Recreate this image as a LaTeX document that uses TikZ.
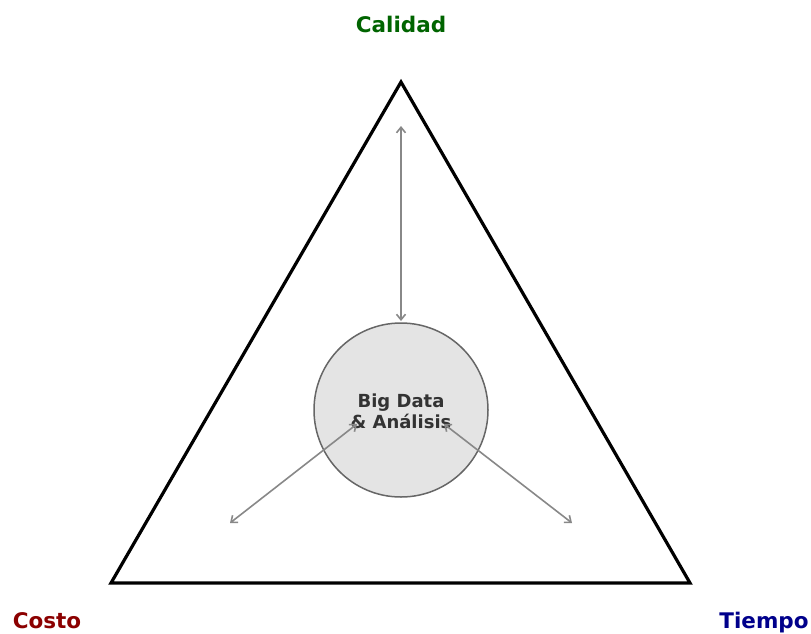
\documentclass[tikz,border=0pt]{standalone}
\usepackage{fontspec}
\setmainfont{DejaVu Sans}
\usetikzlibrary{arrows.meta}
\definecolor{cgreen}{HTML}{006400}
\definecolor{cred}{HTML}{8B0000}
\definecolor{cblue}{HTML}{00008B}
\definecolor{cfill}{HTML}{E4E4E4}
\definecolor{cedge}{HTML}{666666}
\definecolor{ctext}{HTML}{333333}
\definecolor{carrow}{HTML}{888888}
\begin{document}
\begin{tikzpicture}[x=1pt,y=-1pt,
  corner/.style={font=\fontsize{21.5}{24}\selectfont\bfseries,anchor=base,inner sep=0pt},
  link/.style={draw=carrow,line width=1.6pt,{Straight Barb[length=5.5pt,width=9pt]}-{Straight Barb[length=5.5pt,width=9pt]}}]
\useasboundingbox (0,0) rectangle (811,633);
\coordinate (T) at (401,82);
\coordinate (L) at (111,583);
\coordinate (R) at (690,583);
\draw[line width=3.2pt,line join=miter] (T) -- (L) -- (R) -- cycle;
\node[circle,draw=cedge,line width=1.5pt,fill=cfill,minimum size=174pt,inner sep=0pt] (C) at (401,410) {};
\node[text=ctext,align=center,font=\fontsize{18}{21}\selectfont\bfseries] (txt) at (401,411) {Big Data\\\& Análisis};
\coordinate (a1) at (401,126);
\coordinate (a2) at (401,321);
\coordinate (b1) at (230,523);
\coordinate (b2) at (357,424);
\coordinate (c1) at (572,523);
\coordinate (c2) at (444,424);
\draw[link] (a1) -- (a2);
\draw[link] (b1) -- (b2);
\draw[link] (c1) -- (c2);
\node[corner,text=cgreen] (cal) at (401,32) {Calidad};
\node[corner,text=cred] (cos) at (47,628) {Costo};
\node[corner,text=cblue] (tie) at (764,628) {Tiempo};
\end{tikzpicture}
\end{document}
